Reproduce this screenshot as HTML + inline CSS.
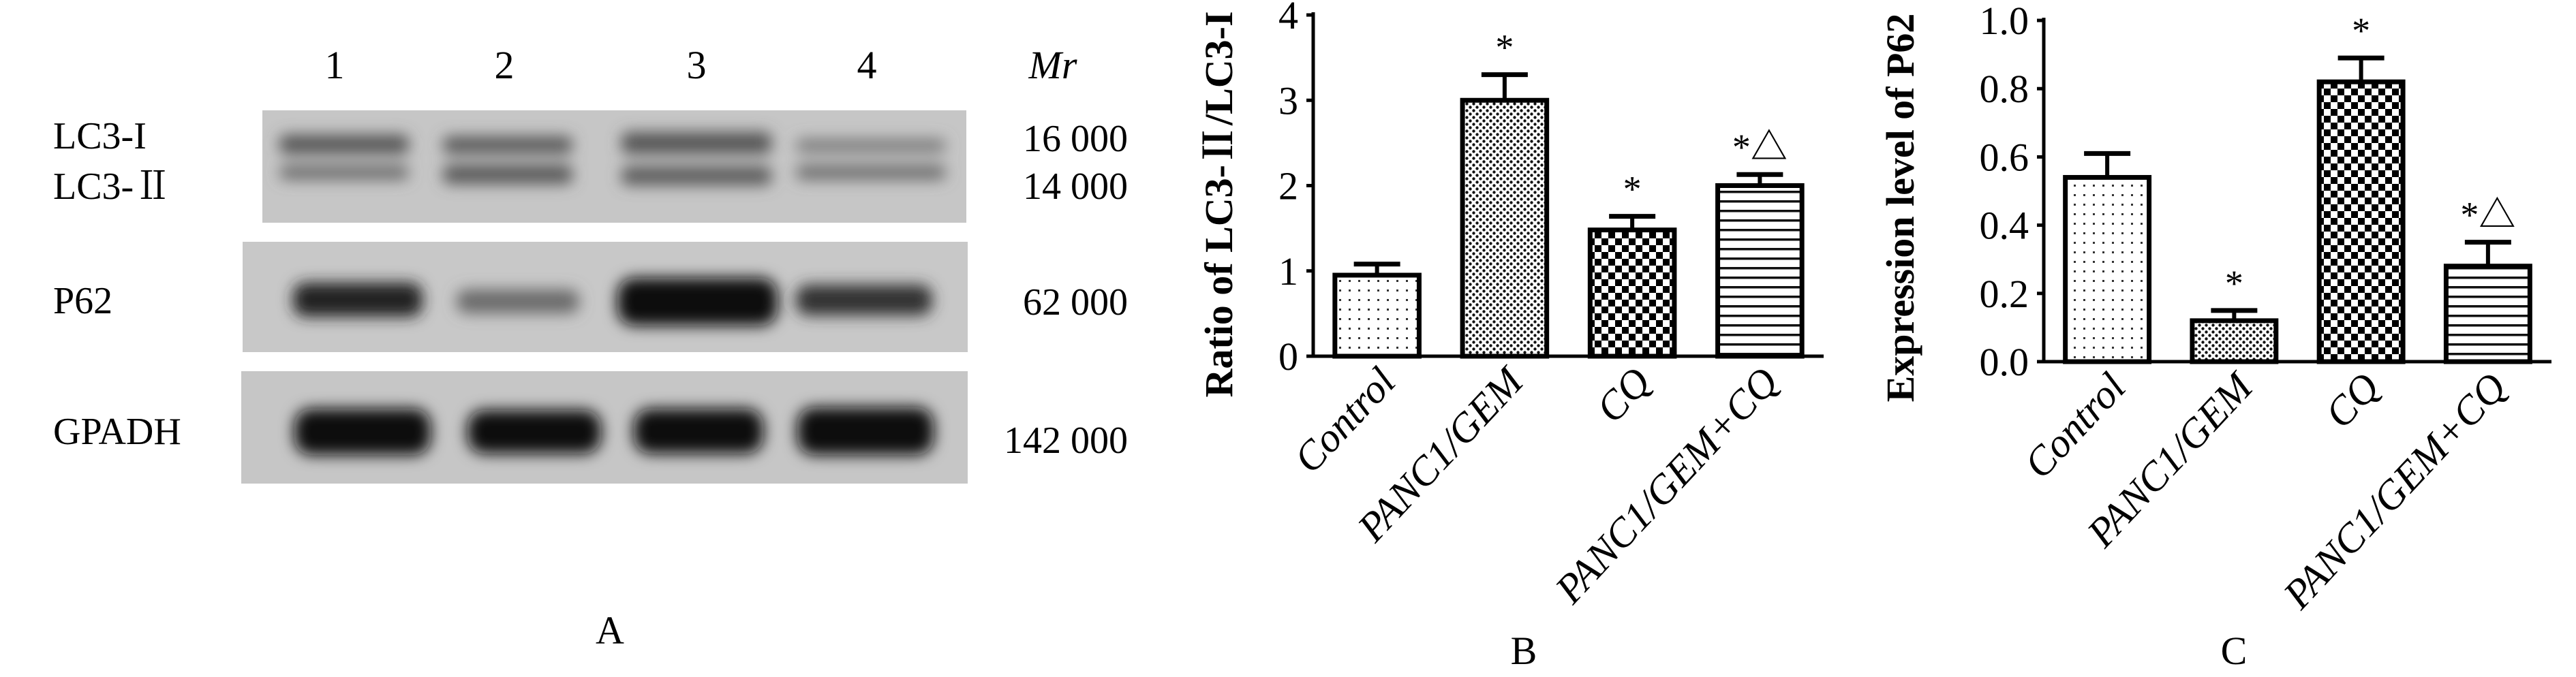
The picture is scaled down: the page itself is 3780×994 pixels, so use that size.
<!DOCTYPE html>
<html><head><meta charset="utf-8"><style>
html,body{margin:0;padding:0;background:#fff;}
svg{display:block;}
text{font-family:"Liberation Serif","Noto Serif CJK SC",serif;fill:#000;}
</style></head><body>
<svg id="fig" width="3780" height="994" viewBox="0 0 3780 994" xmlns="http://www.w3.org/2000/svg">
<defs>
  <filter id="blur" x="-20%" y="-50%" width="140%" height="200%"><feGaussianBlur stdDeviation="11"/></filter>
  <pattern id="pDots" width="14" height="14" patternUnits="userSpaceOnUse"><rect width="14" height="14" fill="#fff"/><rect x="5" y="5" width="3" height="3" fill="#333"/></pattern>
  <pattern id="pFine" width="10" height="10" patternUnits="userSpaceOnUse"><rect width="10" height="10" fill="#fff"/><circle cx="2.5" cy="2.5" r="2.2" fill="#111"/><circle cx="7.5" cy="7.5" r="2.2" fill="#111"/></pattern>
  <pattern id="pCheck" width="20" height="20" patternUnits="userSpaceOnUse"><rect width="20" height="20" fill="#fff"/><rect width="10" height="10" fill="#000"/><rect x="10" y="10" width="10" height="10" fill="#000"/></pattern>
  <pattern id="pLines" width="14" height="14" patternUnits="userSpaceOnUse"><rect width="14" height="14" fill="#fff"/><rect y="0" width="14" height="3.5" fill="#111"/></pattern>
</defs>

<g>
  <g font-size="58" text-anchor="middle">
    <text x="491" y="115">1</text>
    <text x="740" y="115">2</text>
    <text x="1022" y="115">3</text>
    <text x="1272" y="115">4</text>
    <text x="1545" y="115" font-style="italic">Mr</text>
  </g>
  <rect x="385" y="162" width="1033" height="165" fill="#c6c6c6"/>
  <rect x="356" y="355" width="1064" height="162" fill="#c8c8c8"/>
  <rect x="354" y="545" width="1066" height="165" fill="#c6c6c6"/>
  <g filter="url(#blur)">
    <rect x="410" y="198" width="190" height="28" rx="10" fill="#555"/>
    <rect x="650" y="200" width="190" height="26" rx="10" fill="#5a5a5a"/>
    <rect x="912" y="194" width="220" height="32" rx="10" fill="#555"/>
    <rect x="1168" y="204" width="220" height="20" rx="10" fill="#7a7a7a"/>
    <rect x="410" y="242" width="190" height="22" rx="10" fill="#6e6e6e"/>
    <rect x="650" y="242" width="190" height="28" rx="10" fill="#595959"/>
    <rect x="912" y="244" width="220" height="28" rx="10" fill="#5c5c5c"/>
    <rect x="1168" y="242" width="220" height="22" rx="10" fill="#6e6e6e"/>
    <rect x="430" y="415" width="190" height="50" rx="18" fill="#222"/>
    <rect x="670" y="425" width="180" height="35" rx="15" fill="#6a6a6a"/>
    <rect x="906" y="408" width="235" height="70" rx="25" fill="#0a0a0a"/>
    <rect x="1168" y="418" width="200" height="45" rx="18" fill="#333"/>
    <rect x="432" y="600" width="200" height="68" rx="25" fill="#0a0a0a"/>
    <rect x="686" y="602" width="196" height="64" rx="25" fill="#111"/>
    <rect x="930" y="600" width="190" height="66" rx="25" fill="#111"/>
    <rect x="1170" y="598" width="200" height="70" rx="25" fill="#0a0a0a"/>
  </g>
  <g font-size="56">
    <text x="78" y="218">LC3-I</text>
    <text x="78" y="292">LC3-Ⅱ</text>
    <text x="78" y="460">P62</text>
    <text x="78" y="652">GPADH</text>
  </g>
  <g font-size="56" text-anchor="end">
    <text x="1655" y="222">16 000</text>
    <text x="1655" y="292">14 000</text>
    <text x="1655" y="462">62 000</text>
    <text x="1655" y="665">142 000</text>
  </g>
  <text x="895" y="945" font-size="58" text-anchor="middle">A</text>
</g>

<g id="chartB"></g>
<g id="chartC"></g>
</svg>
<script>
const categories = ["Control", "PANC1/GEM", "CQ", "PANC1/GEM+CQ"];
const patterns = ["pDots", "pFine", "pCheck", "pLines"];
const lc3Values = [0.95, 3.0, 1.48, 2.0];
const lc3Errors = [0.13, 0.30, 0.16, 0.13];
const lc3Marks = ["", "*", "*", "*△"];
const lc3Ticks = ["0", "1", "2", "3", "4"];
const p62Values = [0.54, 0.12, 0.82, 0.28];
const p62Errors = [0.07, 0.03, 0.07, 0.07];
const p62Marks = ["", "*", "*", "*△"];
const p62Ticks = ["0.0", "0.2", "0.4", "0.6", "0.8", "1.0"];

const NS = "http://www.w3.org/2000/svg";
function mk(parent, tag, attrs, txt) {
  const e = document.createElementNS(NS, tag);
  for (const k in attrs) e.setAttribute(k, attrs[k]);
  if (txt !== undefined) e.textContent = txt;
  parent.appendChild(e);
  return e;
}

function drawChart(gId, cfg) {
  const g = document.getElementById(gId);
  const y = v => cfg.y0 - (v / cfg.max) * (cfg.y0 - cfg.yTop);
  const step = (cfg.xEnd - cfg.x0) / categories.length;
  const bw = step * 0.66;
  const ya = mk(g, "line", {x1: cfg.x0, y1: cfg.yTop - 4, x2: cfg.x0, y2: cfg.y0, stroke: "#000", "stroke-width": 5});
  
  
  const xa = mk(g, "line", {x1: cfg.x0, y1: cfg.y0, x2: cfg.xEnd, y2: cfg.y0, stroke: "#000", "stroke-width": 5});
  
  
  cfg.ticks.forEach((t, i) => {
    const v = cfg.max * i / (cfg.ticks.length - 1);
    const tk = mk(g, "line", {x1: cfg.x0 - 10, y1: y(v), x2: cfg.x0, y2: y(v), stroke: "#000", "stroke-width": 5});
    
    
    const tl = mk(g, "text", {x: cfg.x0 - 22, y: y(v) + 20, "font-size": 58, "text-anchor": "end"}, t);
    
    
  });
  const tt = mk(g, "text", {x: 0, y: 0, "font-size": 58, "font-weight": "bold", "text-anchor": "middle", transform: `translate(${cfg.titleX},${cfg.titleY}) rotate(-90)`}, cfg.title);
  
  
  categories.forEach((c, i) => {
    const cx = cfg.x0 + step * i + step / 2;
    const v = cfg.values[i], e = cfg.errors[i];
    const ln = mk(g, "line", {x1: cx, y1: y(v), x2: cx, y2: y(v + e), stroke: "#000", "stroke-width": 6});
    
    
    const cap = mk(g, "line", {x1: cx - 34, y1: y(v + e), x2: cx + 34, y2: y(v + e), stroke: "#000", "stroke-width": 7});
    
    
    const r = mk(g, "rect", {x: cx - bw / 2, y: y(v), width: bw, height: cfg.y0 - y(v), fill: `url(#${patterns[i]})`, stroke: "#000", "stroke-width": 7});
    
    
    if (cfg.marks[i]) {
      const m = mk(g, "text", {x: cx, y: y(v + e) - 22, "font-size": 54, "text-anchor": "middle"}, cfg.marks[i]);
      
      
    }
    const lb = mk(g, "text", {x: 0, y: 0, "font-size": 60, "font-style": "italic", "text-anchor": "end", transform: `translate(${cx + 30},${cfg.y0 + 40}) rotate(-47)`}, c);
    
    
  });
  const L = mk(g, "text", {x: cfg.letterX, y: 975, "font-size": 58, "text-anchor": "middle"}, cfg.letter);
  
  
}

drawChart("chartB", {x0: 1927, xEnd: 2676, y0: 523, yTop: 22, max: 4, values: lc3Values, errors: lc3Errors, marks: lc3Marks, ticks: lc3Ticks, title: "Ratio of LC3-Ⅱ/LC3-I", titleX: 1808, titleY: 300, letter: "B", letterX: 2236});
drawChart("chartC", {x0: 2999, xEnd: 3744, y0: 531, yTop: 30, max: 1.0, values: p62Values, errors: p62Errors, marks: p62Marks, ticks: p62Ticks, title: "Expression level of P62", titleX: 2808, titleY: 305, letter: "C", letterX: 3278});
</script>
</body></html>
